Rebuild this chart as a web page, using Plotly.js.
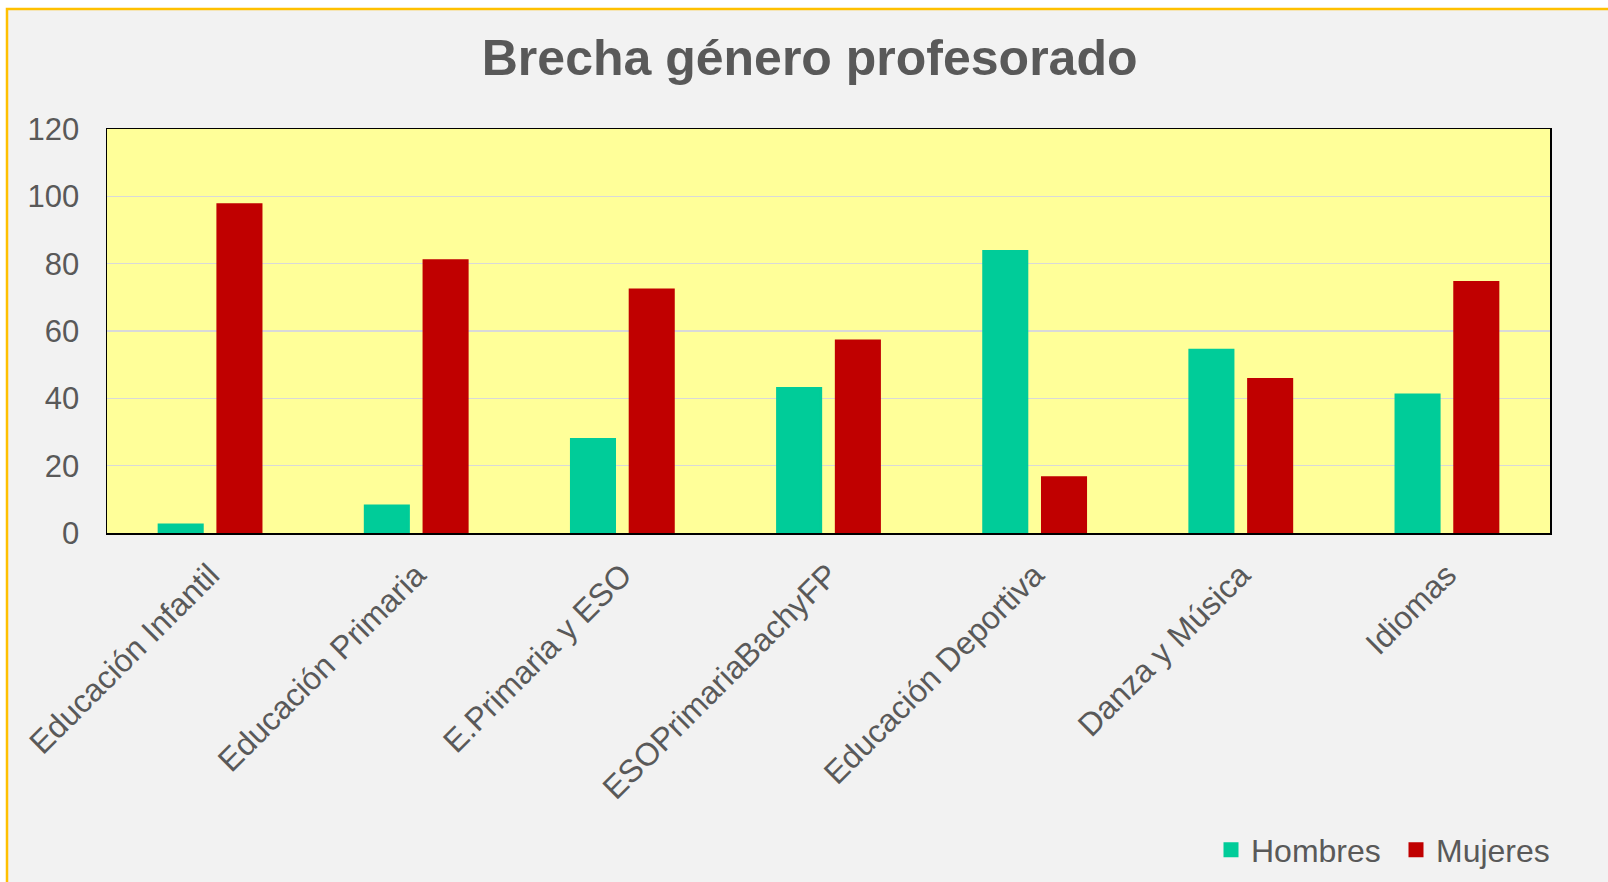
<!DOCTYPE html>
<html>
<head>
<meta charset="utf-8">
<script src="https://cdn.plot.ly/plotly-3.0.1.min.js"></script>
<style>
  html, body { margin: 0; padding: 0; background: #ffffff; }
  #chart { width: 1608px; height: 882px; }
</style>
</head>
<body>
<div id="chart"></div>
<script>
const categories = [
  "Educación Infantil",
  "Educación Primaria",
  "E.Primaria y ESO",
  "ESOPrimariaBachyFP",
  "Educación Deportiva",
  "Danza y Música",
  "Idiomas"
];
const hombres = [2.4, 8.0, 27.8, 42.9, 83.6, 54.3, 41.0];
const mujeres = [97.5, 80.9, 72.2, 57.0, 16.4, 45.6, 74.4];
const seriesNames = ["Hombres", "Mujeres"];
const yTicks = [0, 20, 40, 60, 80, 100, 120];
const titleText = "Brecha género profesorado";

const FONT = "Liberation Sans, Arial, sans-serif";
const TXT = "#595959";

const traces = [
  {
    type: "bar",
    name: seriesNames[0],
    x: categories,
    y: hombres,
    marker: { color: "#00CC99", line: { width: 3, color: "#00CC99" } },
    hoverinfo: "x+y+name"
  },
  {
    type: "bar",
    name: seriesNames[1],
    x: categories,
    y: mujeres,
    marker: { color: "#C00000", line: { width: 3, color: "#C00000" } },
    hoverinfo: "x+y+name"
  }
];

const layout = {
  width: 1608,
  height: 882,
  margin: { l: 107, r: 58, t: 129, b: 349, pad: 0 },
  paper_bgcolor: "#ffffff",
  plot_bgcolor: "rgba(0,0,0,0)",
  font: { family: FONT, color: TXT, size: 31 },
  barmode: "group",
  bargap: 0.43,
  bargroupgap: 0.267,
  title: {
    text: "<b>" + titleText + "</b>",
    font: { family: FONT, size: 50, color: TXT },
    x: 0.5035,
    xanchor: "center",
    xref: "container",
    yref: "container",
    y: 0.935,
    yanchor: "middle"
  },
  xaxis: {
    type: "category",
    tickangle: -45,
    tickfont: { family: FONT, size: 32, color: TXT },
    showgrid: false,
    showline: true,
    linecolor: "#000000",
    linewidth: 1.5,
    mirror: true,
    ticks: "",
    ticklabelstandoff: 9,
    fixedrange: true
  },
  yaxis: {
    range: [0, 120],
    tickvals: yTicks,
    ticktext: yTicks.map(String),
    tickfont: { family: FONT, size: 31, color: TXT },
    showgrid: true,
    gridcolor: "#D9D9D9",
    gridwidth: 1.5,
    zeroline: false,
    showline: true,
    linecolor: "#000000",
    linewidth: 1.5,
    mirror: true,
    ticks: "",
    ticklabelstandoff: 20,
    fixedrange: true
  },
  legend: {
    orientation: "h",
    xref: "container",
    yref: "container",
    x: 1581 / 1608,
    xanchor: "right",
    y: 1 - 850 / 882,
    yanchor: "middle",
    entrywidth: 140,
    bgcolor: "rgba(0,0,0,0)",
    font: { family: FONT, size: 32, color: TXT },
    traceorder: "normal"
  },
  shapes: [
    {
      type: "rect", xref: "paper", yref: "paper", layer: "below",
      x0: (7 - 107) / 1443, x1: (1640 - 107) / 1443,
      y0: (533 - 920) / 404, y1: (533 - 9) / 404,
      fillcolor: "#F2F2F2",
      line: { color: "#FFC000", width: 2.5 }
    },
    {
      type: "rect", xref: "paper", yref: "paper", layer: "below",
      x0: 0, x1: 1, y0: 0, y1: 1,
      fillcolor: "#FFFF99",
      line: { width: 0 }
    }
  ]
};

Plotly.newPlot("chart", traces, layout, { displayModeBar: false, staticPlot: true });
</script>
</body>
</html>
